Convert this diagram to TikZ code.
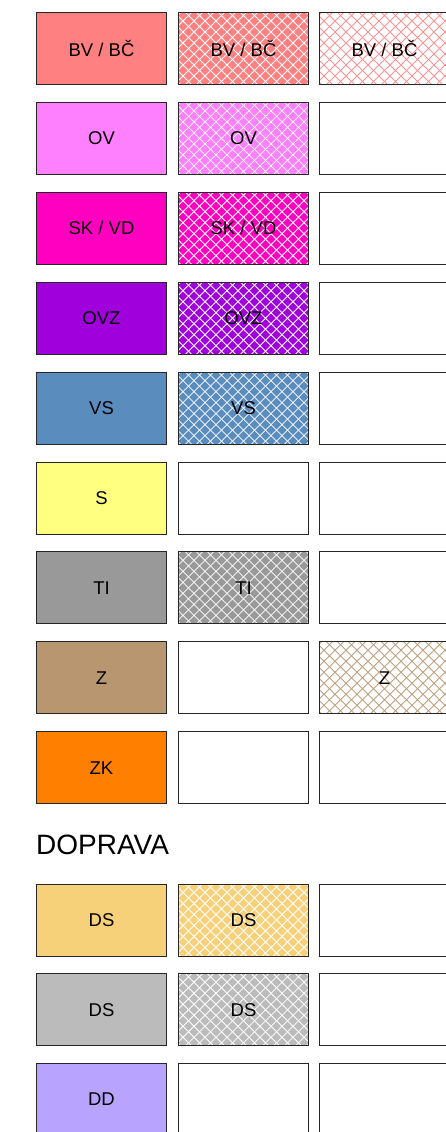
\documentclass[tikz,border=0pt]{standalone}
\usepackage{fontspec}
\setmainfont{Liberation Sans}
\definecolor{cBV}{HTML}{FF8080}
\definecolor{cOV}{HTML}{FF80FF}
\definecolor{cSK}{HTML}{FF00C0}
\definecolor{cOVZ}{HTML}{A000DC}
\definecolor{cVS}{HTML}{5A8CBE}
\definecolor{cS}{HTML}{FFFF80}
\definecolor{cTI}{HTML}{999999}
\definecolor{cZ}{HTML}{B89670}
\definecolor{cZK}{HTML}{FF8000}
\definecolor{cDSa}{HTML}{F7D17A}
\definecolor{cDSb}{HTML}{BBBBBB}
\definecolor{cDD}{HTML}{B8A4FF}
\tikzset{
  cell/.style={draw=black!85, line width=1pt, minimum width=130pt, minimum height=72pt,
    inner sep=0pt, anchor=north west, font=\fontsize{18.5}{20}\selectfont},
  hatch/.style={path picture={
    \foreach \k in {-11,...,11}{
      \draw[#1, line width=0.8pt] ([xshift=\k*11pt]path picture bounding box.center) ++(-70pt,-70pt) -- ++(140pt,140pt);
      \draw[#1, line width=0.8pt] ([xshift=\k*11pt]path picture bounding box.center) ++(-70pt,70pt) -- ++(140pt,-140pt);
    }}},
  heading/.style={anchor=base west, inner sep=0pt, font=\fontsize{28}{30}\selectfont}
}
\begin{document}
\begin{tikzpicture}
\useasboundingbox (0pt,0pt) rectangle (446pt,-1132pt);
% column x: 36, 178, 319
% row 1
\node[cell, fill=cBV] (bv1) at (36pt,-12pt) {BV / BČ};
\node[cell, fill=cBV, hatch=white] (bv2) at (178pt,-12pt) {BV / BČ};
\node[cell, fill=white, hatch={cBV!85}] (bv3) at (319pt,-12pt) {BV / BČ};
% row 2
\node[cell, fill=cOV] (ov1) at (36pt,-101.9pt) {OV};
\node[cell, fill=cOV, hatch=white] (ov2) at (178pt,-101.9pt) {OV};
\node[cell, fill=white] (ov3) at (319pt,-101.9pt) {};
% row 3
\node[cell, fill=cSK] (sk1) at (36pt,-191.8pt) {SK / VD};
\node[cell, fill=cSK, hatch=white] (sk2) at (178pt,-191.8pt) {SK / VD};
\node[cell, fill=white] (sk3) at (319pt,-191.8pt) {};
% row 4
\node[cell, fill=cOVZ] (ovz1) at (36pt,-281.7pt) {OVZ};
\node[cell, fill=cOVZ, hatch=white] (ovz2) at (178pt,-281.7pt) {OVZ};
\node[cell, fill=white] (ovz3) at (319pt,-281.7pt) {};
% row 5
\node[cell, fill=cVS] (vs1) at (36pt,-371.6pt) {VS};
\node[cell, fill=cVS, hatch=white] (vs2) at (178pt,-371.6pt) {VS};
\node[cell, fill=white] (vs3) at (319pt,-371.6pt) {};
% row 6
\node[cell, fill=cS] (s1) at (36pt,-461.5pt) {S};
\node[cell, fill=white] (s2) at (178pt,-461.5pt) {};
\node[cell, fill=white] (s3) at (319pt,-461.5pt) {};
% row 7
\node[cell, fill=cTI] (ti1) at (36pt,-551.4pt) {TI};
\node[cell, fill=cTI, hatch=white] (ti2) at (178pt,-551.4pt) {TI};
\node[cell, fill=white] (ti3) at (319pt,-551.4pt) {};
% row 8
\node[cell, fill=cZ] (z1) at (36pt,-641.3pt) {Z};
\node[cell, fill=white] (z2) at (178pt,-641.3pt) {};
\node[cell, fill=white, hatch={cZ!90}] (z3) at (319pt,-641.3pt) {Z};
% row 9
\node[cell, fill=cZK] (zk1) at (36pt,-731.2pt) {ZK};
\node[cell, fill=white] (zk2) at (178pt,-731.2pt) {};
\node[cell, fill=white] (zk3) at (319pt,-731.2pt) {};
% heading
\node[heading] (doprava) at (36pt,-854pt) {DOPRAVA};
% transport rows
\node[cell, fill=cDSa] (ds1) at (36pt,-883.5pt) {DS};
\node[cell, fill=cDSa, hatch=white] (ds2) at (178pt,-883.5pt) {DS};
\node[cell, fill=white] (ds3) at (319pt,-883.5pt) {};
\node[cell, fill=cDSb] (dsb1) at (36pt,-973.3pt) {DS};
\node[cell, fill=cDSb, hatch=white] (dsb2) at (178pt,-973.3pt) {DS};
\node[cell, fill=white] (dsb3) at (319pt,-973.3pt) {};
\node[cell, fill=cDD] (dd1) at (36pt,-1063pt) {DD};
\node[cell, fill=white] (dd2) at (178pt,-1063pt) {};
\node[cell, fill=white] (dd3) at (319pt,-1063pt) {};
\end{tikzpicture}
\end{document}
